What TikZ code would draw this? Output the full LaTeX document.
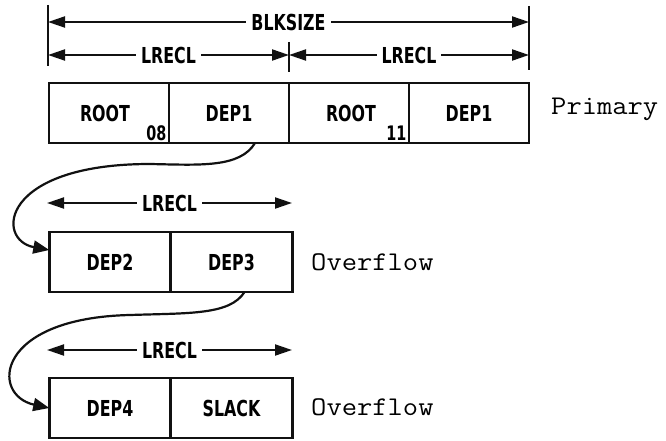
\documentclass[tikz,border=0pt]{standalone}
\usepackage{fontspec}
\usepackage{tikz}
\usetikzlibrary{arrows.meta,calc,positioning}
\newfontfamily\lblfont[FakeStretch=0.72]{DejaVu Sans}
\newfontfamily\tagfont[FakeStretch=1.1]{Latin Modern Mono}
\definecolor{inkBlack}{HTML}{111111}

\begin{document}
\begin{tikzpicture}[x=1pt,y=-1pt,
  cell/.style={draw=inkBlack,line width=2.6pt,minimum width=120pt,minimum height=60pt,
    inner sep=0pt,outer sep=0pt,font=\lblfont\bfseries\fontsize{22}{22}\selectfont},
  ocell/.style={cell,minimum width=121.5pt},
  subnum/.style={anchor=south east,inner sep=2.5pt,font=\lblfont\bfseries\fontsize{20}{20}\selectfont},
  tag/.style={anchor=base west,inner sep=0pt,font=\tagfont\fontsize{27}{27}\selectfont},
  bar/.style={draw=inkBlack,line width=2.2pt},
  dim/.style={draw=inkBlack,line width=2pt,{Triangle[length=17pt,width=11pt]}-{Triangle[length=17pt,width=11pt]}},
  dimtext/.style={fill=white,inner xsep=5pt,inner ysep=1pt,font=\lblfont\bfseries\fontsize{22}{22}\selectfont},
  link/.style={draw=inkBlack,line width=2.2pt,-{Triangle[length=16pt,width=13pt]}}]
  \useasboundingbox (0,0) rectangle (666,441);

  % primary block
  \node[cell] (r1) at (109,113) {ROOT\hspace*{8pt}};
  \node[cell,right=0pt of r1] (d1a) {DEP1};
  \node[cell,right=0pt of d1a] (r2) {\hspace*{8pt}ROOT\hspace*{4pt}};
  \node[cell,right=0pt of r2] (d1b) {DEP1};
  \node[subnum] (s08) at (r1.south east) {08};
  \node[subnum] (s11) at (r2.south east) {11};
  \node[tag] (prim) at (551,115) {Primary};

  % dimension lines
  \coordinate (lbTop) at (48,5);   \coordinate (lbBot) at (48,66);
  \coordinate (rbTop) at (529,6);  \coordinate (rbBot) at (529,70);
  \coordinate (mbTop) at (289,42); \coordinate (mbBot) at (289,72);
  \draw[bar] (lbTop) -- (lbBot);
  \draw[bar] (rbTop) -- (rbBot);
  \draw[bar] (mbTop) -- (mbBot);
  \coordinate (blkL) at (48,22);  \coordinate (blkR) at (529,22);
  \coordinate (lrL) at (48,55);   \coordinate (lrM) at (289,55);  \coordinate (lrR) at (529,55);
  \draw[dim] (blkL) -- (blkR) node[dimtext,midway] (blk) {BLKSIZE};
  \draw[dim] (lrL) -- (lrM) node[dimtext,midway] (lr1) {LRECL};
  \draw[dim] (lrM) -- (lrR) node[dimtext,midway] (lr2) {LRECL};

  % first overflow block
  \node[ocell] (d2) at (110,262) {DEP2};
  \node[ocell,right=0pt of d2] (d3) {DEP3};
  \node[tag] (ovf1) at (311,270) {Overflow};
  \coordinate (o1L) at (47,203); \coordinate (o1R) at (292,203);
  \draw[dim] (o1L) -- (o1R) node[dimtext,midway] (lr3) {LRECL};

  % second overflow block
  \node[ocell] (d4) at (110,408) {DEP4};
  \node[ocell,right=0pt of d4] (slk) {SLACK};
  \node[tag] (ovf2) at (311,415) {Overflow};
  \coordinate (o2L) at (47,350); \coordinate (o2R) at (292,350);
  \draw[dim] (o2L) -- (o2R) node[dimtext,midway] (lr4) {LRECL};

  % chaining
  \draw[link] ($(d1a.south)+(26,0)$) .. controls (240,168) and (200,165) .. (150,164)
    .. controls (0,164) and (-5,240) .. ($(d2.north west)!0.3!(d2.south west)$);
  \draw[link] ($(d3.south)+(13,0)$) .. controls (230,315) and (190,313) .. (130,315)
    .. controls (-5,318) and (-10,395) .. (d4.west);
\end{tikzpicture}
\end{document}
